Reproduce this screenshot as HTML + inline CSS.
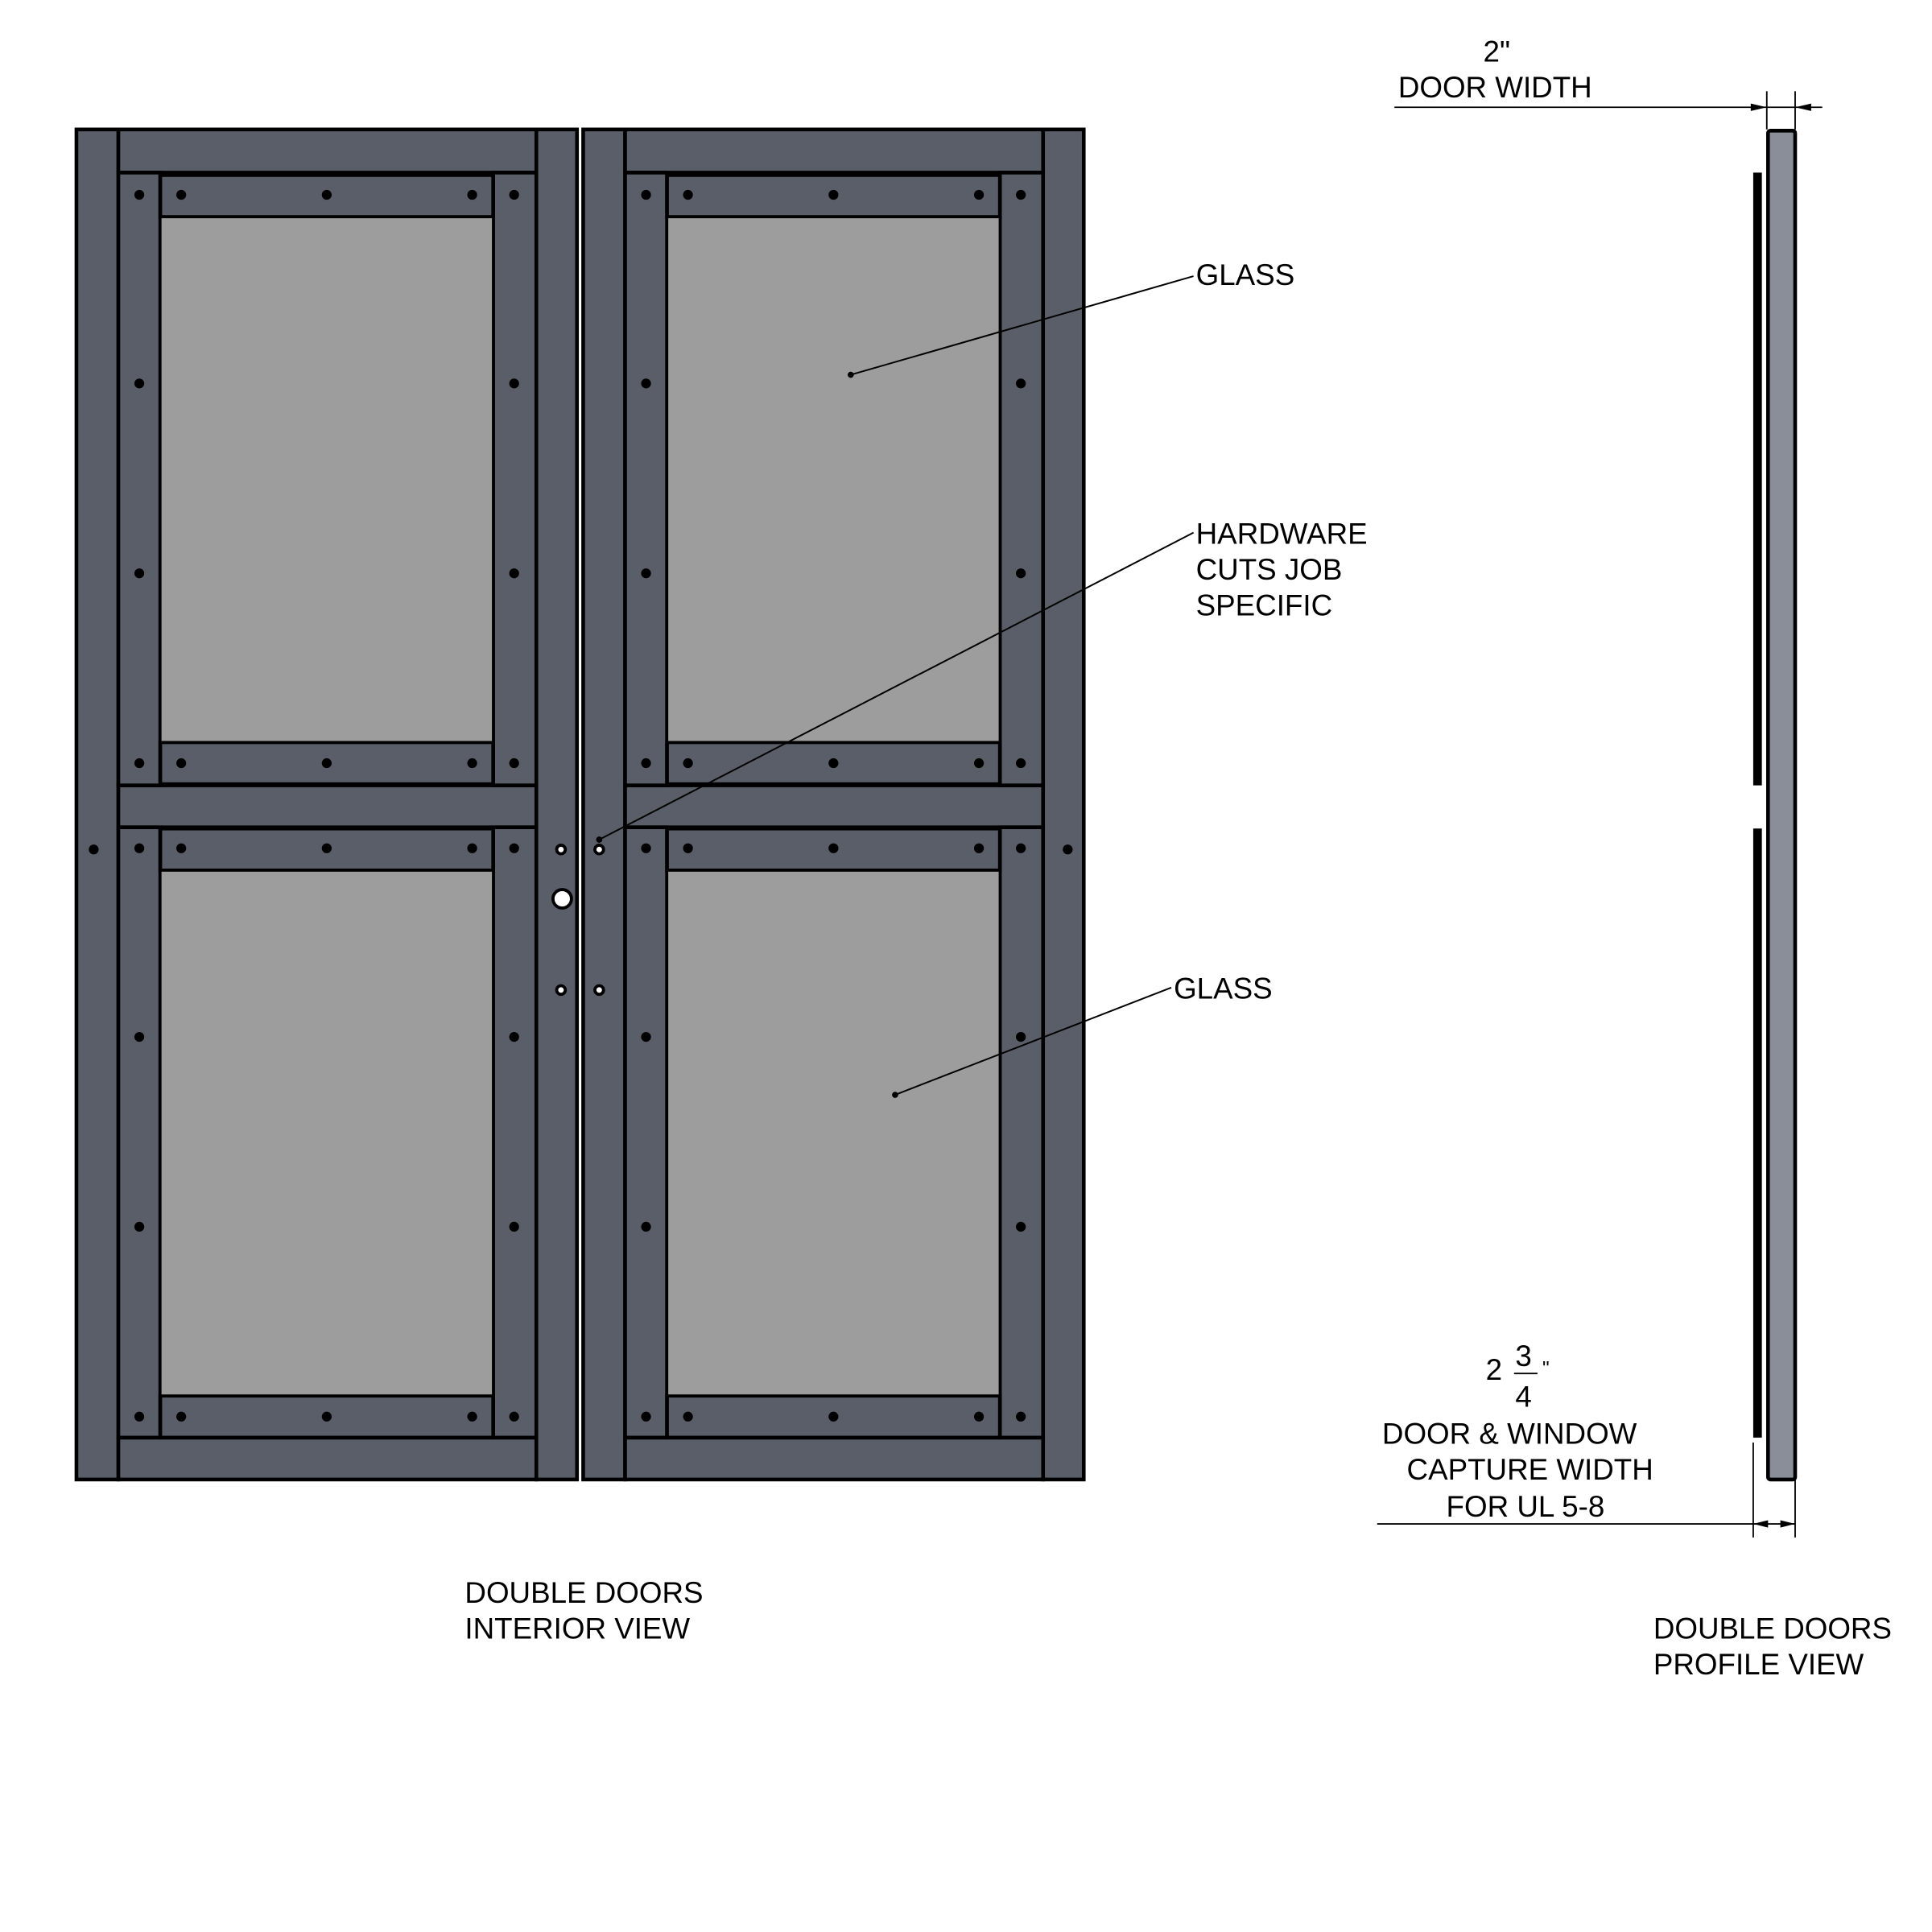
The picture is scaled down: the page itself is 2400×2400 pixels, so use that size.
<!DOCTYPE html>
<html><head><style>
html,body{margin:0;padding:0;background:#fff;}
svg{display:block;}
text{font-family:"Liberation Sans",sans-serif;font-size:24px;fill:#000;}
</style></head><body>
<svg width="2400" height="2400" viewBox="0 0 1567 1567" xmlns="http://www.w3.org/2000/svg">
<defs>
<g id="door">
 <g fill="#595e68" stroke="#000" stroke-width="3">
  <rect x="62" y="105" width="34" height="1095"/>
  <rect x="435" y="105" width="33" height="1095"/>
  <rect x="96" y="105" width="339" height="35"/>
  <rect x="96" y="637" width="339" height="34"/>
  <rect x="96" y="1166" width="339" height="34"/>
  <rect x="96" y="140" width="34" height="497"/>
  <rect x="400" y="140" width="35" height="497"/>
  <rect x="130" y="142" width="270" height="34"/>
  <rect x="130" y="602" width="270" height="34"/>
  <rect x="96" y="671" width="34" height="495"/>
  <rect x="400" y="671" width="35" height="495"/>
  <rect x="130" y="672" width="270" height="34"/>
  <rect x="130" y="1132" width="270" height="34"/>
 </g>
 <rect x="131" y="177" width="268" height="424" fill="#9d9d9d"/>
 <rect x="131" y="707" width="268" height="424" fill="#9d9d9d"/>
 <g fill="#000">
  <circle cx="113" cy="158" r="4"/><circle cx="147" cy="158" r="4"/><circle cx="265" cy="158" r="4"/><circle cx="383" cy="158" r="4"/><circle cx="417" cy="158" r="4"/>
  <circle cx="113" cy="619" r="4"/><circle cx="147" cy="619" r="4"/><circle cx="265" cy="619" r="4"/><circle cx="383" cy="619" r="4"/><circle cx="417" cy="619" r="4"/>
  <circle cx="113" cy="688" r="4"/><circle cx="147" cy="688" r="4"/><circle cx="265" cy="688" r="4"/><circle cx="383" cy="688" r="4"/><circle cx="417" cy="688" r="4"/>
  <circle cx="113" cy="1149" r="4"/><circle cx="147" cy="1149" r="4"/><circle cx="265" cy="1149" r="4"/><circle cx="383" cy="1149" r="4"/><circle cx="417" cy="1149" r="4"/>
  <circle cx="113" cy="311" r="4"/><circle cx="417" cy="311" r="4"/><circle cx="113" cy="465" r="4"/><circle cx="417" cy="465" r="4"/>
  <circle cx="113" cy="841" r="4"/><circle cx="417" cy="841" r="4"/><circle cx="113" cy="995" r="4"/><circle cx="417" cy="995" r="4"/>
 </g>
</g>
</defs>
<use href="#door"/>
<use href="#door" transform="translate(411,0)"/>
<circle cx="76" cy="689" r="4"/>
<circle cx="866" cy="689" r="4"/>
<g fill="#fff" stroke="#000" stroke-width="2.5">
 <circle cx="455" cy="689" r="3.5"/><circle cx="486" cy="689" r="3.5"/>
 <circle cx="455" cy="803" r="3.5"/><circle cx="486" cy="803" r="3.5"/>
 <circle cx="456" cy="729" r="7.5"/>
</g>
<g stroke="#000" stroke-width="1.3">
 <line x1="968" y1="224" x2="690" y2="304"/>
 <line x1="968" y1="432" x2="486" y2="681"/>
 <line x1="950" y1="801" x2="726" y2="888"/>
</g>
<circle cx="690" cy="304" r="2.5"/><circle cx="486" cy="681" r="2.5"/><circle cx="726" cy="888" r="2.5"/>
<text x="970" y="231">GLASS</text>
<text x="970" y="441">HARDWARE</text>
<text x="970" y="470">CUTS JOB</text>
<text x="970" y="499">SPECIFIC</text>
<text x="952" y="810">GLASS</text>
<text x="377" y="1300">DOUBLE DOORS</text>
<text x="377" y="1329">INTERIOR VIEW</text>
<text x="1341" y="1329">DOUBLE DOORS</text>
<text x="1341" y="1358">PROFILE VIEW</text>
<rect x="1434" y="106" width="22" height="1094" fill="#898e99" stroke="#000" stroke-width="3" rx="2"/>
<rect x="1422" y="140" width="7" height="497" fill="#000"/>
<rect x="1422" y="672" width="7" height="494" fill="#000"/>
<g stroke="#000" stroke-width="1.2">
 <line x1="1131" y1="87" x2="1478" y2="87"/>
 <line x1="1433" y1="74" x2="1433" y2="105"/>
 <line x1="1456" y1="74" x2="1456" y2="105"/>
 <line x1="1117" y1="1236" x2="1456" y2="1236"/>
 <line x1="1422" y1="1170" x2="1422" y2="1247"/>
 <line x1="1456" y1="1200" x2="1456" y2="1247"/>
</g>
<polygon points="1433,87 1420,84 1420,90"/>
<polygon points="1456,87 1469,84 1469,90"/>
<polygon points="1422,1236 1434,1233 1434,1239"/>
<polygon points="1456,1236 1444,1233 1444,1239"/>
<text x="1203" y="50">2"</text>
<text x="1134" y="79">DOOR WIDTH</text>
<text x="1205" y="1119">2</text>
<text x="1229" y="1108">3</text>
<line x1="1228" y1="1114" x2="1247" y2="1114" stroke="#000" stroke-width="1.3"/>
<text x="1229" y="1141">4</text>
<text x="1251" y="1115" style="font-size:16px">"</text>
<text x="1121" y="1171">DOOR &amp; WINDOW</text>
<text x="1141" y="1200">CAPTURE WIDTH</text>
<text x="1173" y="1230">FOR UL 5-8</text>
</svg>
</body></html>
